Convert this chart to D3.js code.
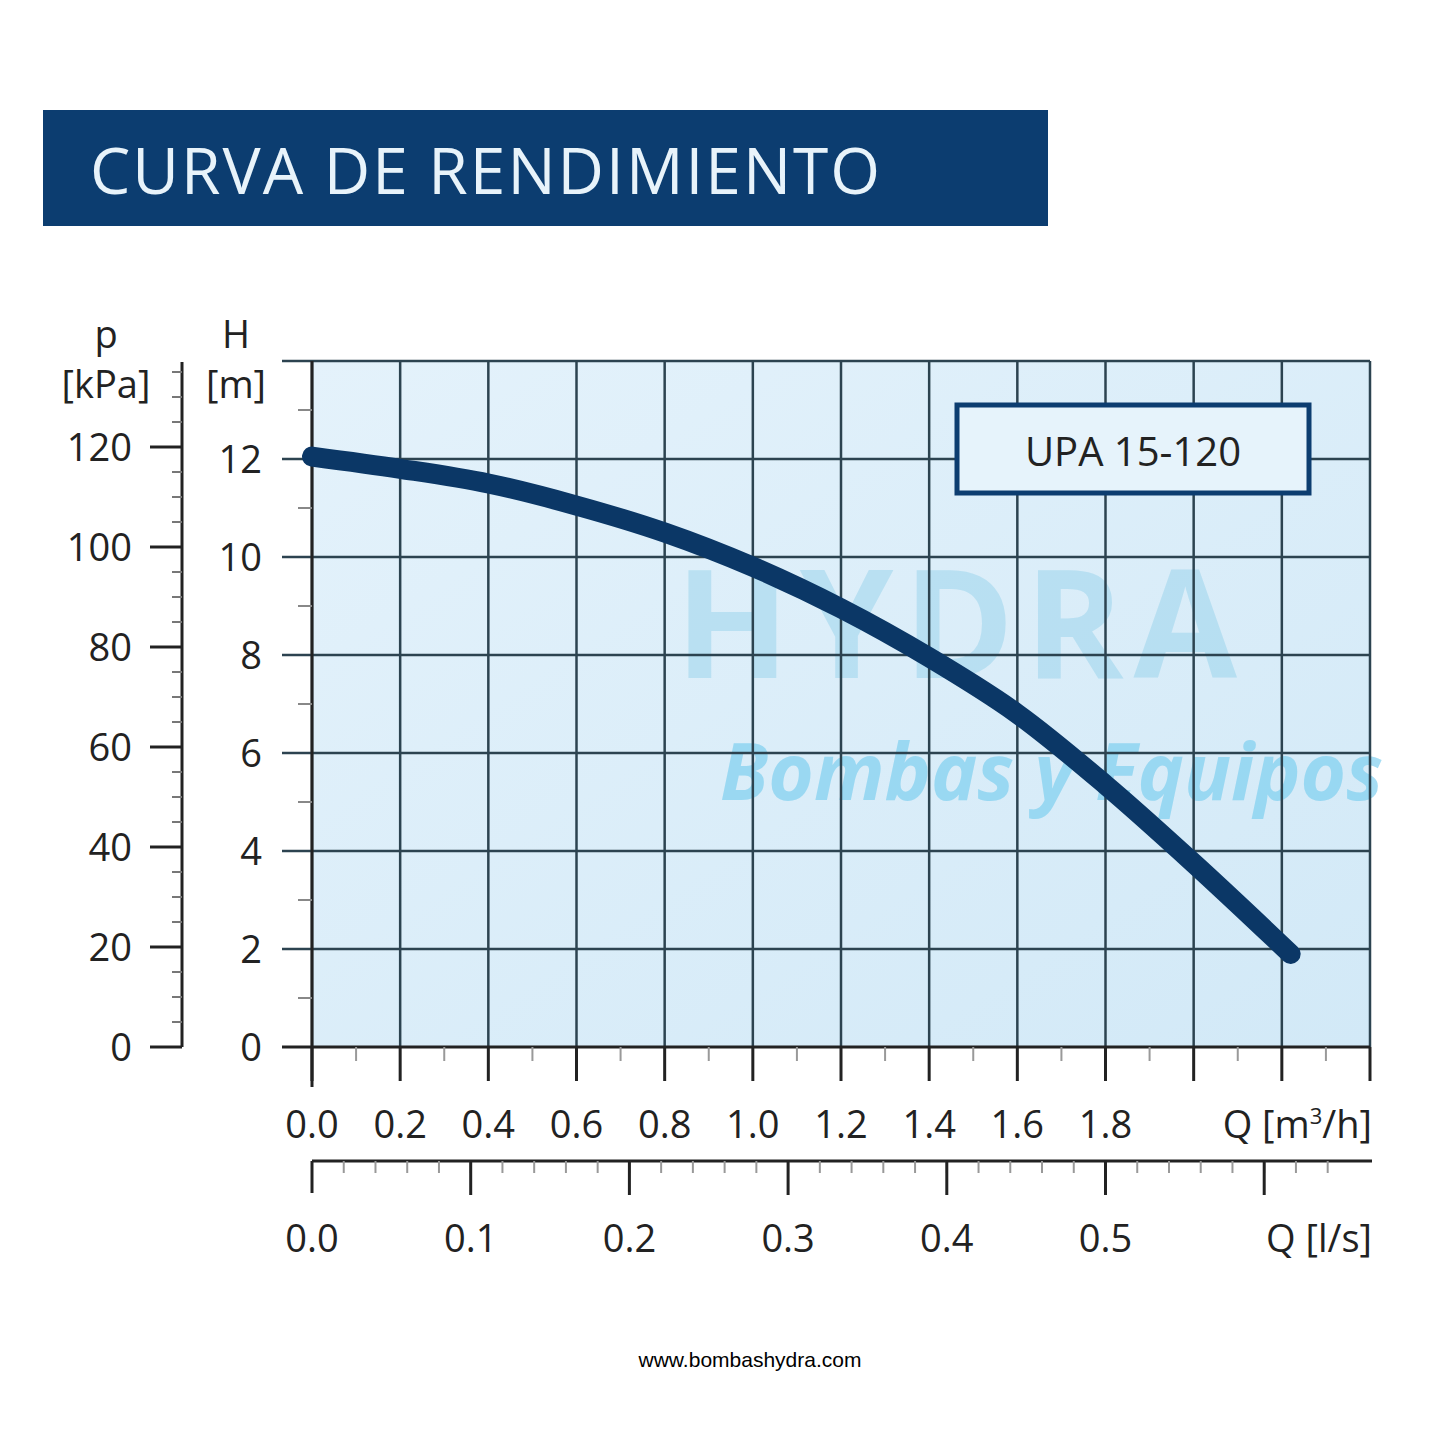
<!DOCTYPE html>
<html>
<head>
<script src="https://cdn.jsdelivr.net/npm/d3@7"></script>
<style>
body { margin:0; background:#fff; }
text { font-family: "Open Sans", "DejaVu Sans", sans-serif; fill:#222; }
</style>
</head>
<body>
<svg id="chart" width="1445" height="1445"></svg>
<script>
// curve of UPA 15-120: Q [m3/h] vs H [m]
var flowQ  = [0.0, 0.2, 0.4, 0.6, 0.8, 1.0, 1.2, 1.4, 1.6, 1.8, 2.0, 2.22];
var headH  = [12.05, 11.8, 11.5, 11.05, 10.5, 9.8, 8.95, 7.95, 6.8, 5.35, 3.75, 1.9];
var qTicks = [0, 0.2, 0.4, 0.6, 0.8, 1.0, 1.2, 1.4, 1.6, 1.8];
var hTicks = [0, 2, 4, 6, 8, 10, 12];
var pTicks = [0, 20, 40, 60, 80, 100, 120];
var lsTicks = [0, 0.1, 0.2, 0.3, 0.4, 0.5];

var svg = d3.select("#chart");
var x = d3.scaleLinear().domain([0, 2.4]).range([312, 1370]);
var y = d3.scaleLinear().domain([0, 14]).range([1047, 361]);
var p = d3.scaleLinear().domain([0, 137]).range([1047, 362]);
var xl = d3.scaleLinear().domain([0, 2.4 / 3.6]).range([312, 1370]);

// title banner
svg.append("rect").attr("x", 43).attr("y", 110).attr("width", 1005).attr("height", 116).attr("fill", "#0c3d70");
svg.append("text").attr("x", 90).attr("y", 194).text("CURVA DE RENDIMIENTO")
   .style("font-size", "64px").style("fill", "#e8f3fa").style("letter-spacing", "2px");

// plot background
var grad = svg.append("defs").append("linearGradient").attr("id", "bg").attr("x1", 0).attr("y1", 0).attr("x2", 1).attr("y2", 1);
grad.append("stop").attr("offset", "0%").attr("stop-color", "#e4f2fb");
grad.append("stop").attr("offset", "100%").attr("stop-color", "#d2e9f7");
svg.append("rect").attr("x", x(0)).attr("y", y(14)).attr("width", x(2.4) - x(0)).attr("height", y(0) - y(14)).attr("fill", "url(#bg)");

// watermark
svg.append("text").attr("x", 675).attr("y", 678).style("font-size", "150px").style("font-weight", "bold")
   .style("fill", "#8fd0ea").style("opacity", 0.45).style("letter-spacing", "10px").text("HYDRA");
svg.append("text").attr("x", 720).attr("y", 800).style("font-size", "78px").style("font-style", "italic").style("font-weight", "bold")
   .style("fill", "#7fd0f0").style("opacity", 0.7).text("Bombas y Equipos");

// grid
var gridColor = "#2c4350";
svg.selectAll(".vg").data(d3.range(0, 2.41, 0.2)).enter().append("line")
   .attr("x1", d => x(d)).attr("x2", d => x(d)).attr("y1", y(14)).attr("y2", y(0))
   .attr("stroke", gridColor).attr("stroke-width", 2.5);
svg.selectAll(".hg").data([2, 4, 6, 8, 10, 12, 14]).enter().append("line")
   .attr("x1", x(0) - 30).attr("x2", x(2.4)).attr("y1", d => y(d)).attr("y2", d => y(d))
   .attr("stroke", gridColor).attr("stroke-width", 2.5);
svg.append("line").attr("x1", x(0) - 30).attr("x2", x(2.4)).attr("y1", y(0)).attr("y2", y(0))
   .attr("stroke", "#222").attr("stroke-width", 3);
svg.append("line").attr("x1", x(0)).attr("x2", x(0)).attr("y1", y(14)).attr("y2", y(0) + 40)
   .attr("stroke", "#222").attr("stroke-width", 3);
// H minor ticks
svg.selectAll(".hm").data([1, 3, 5, 7, 9, 11, 13]).enter().append("line")
   .attr("x1", x(0) - 14).attr("x2", x(0)).attr("y1", d => y(d)).attr("y2", d => y(d))
   .attr("stroke", "#888").attr("stroke-width", 2);
svg.selectAll(".hl").data(hTicks).enter().append("text")
   .attr("x", 262).attr("y", d => y(d) + 14).attr("text-anchor", "end")
   .style("font-size", "38px").text(d => d);
svg.append("text").attr("x", 236).attr("y", 348).attr("text-anchor", "middle").style("font-size", "38px").text("H");
svg.append("text").attr("x", 236).attr("y", 398).attr("text-anchor", "middle").style("font-size", "38px").text("[m]");

// kPa axis
svg.append("line").attr("x1", 182).attr("x2", 182).attr("y1", 362).attr("y2", 1047).attr("stroke", "#222").attr("stroke-width", 3);
svg.selectAll(".pm").data(d3.range(0, 136, 5)).enter().append("line")
   .attr("x1", 172).attr("x2", 182).attr("y1", d => p(d)).attr("y2", d => p(d))
   .attr("stroke", "#777").attr("stroke-width", 2);
svg.selectAll(".pt").data(pTicks).enter().append("line")
   .attr("x1", 150).attr("x2", 182).attr("y1", d => p(d)).attr("y2", d => p(d))
   .attr("stroke", "#222").attr("stroke-width", 3);
svg.selectAll(".pl").data(pTicks).enter().append("text")
   .attr("x", 132).attr("y", d => p(d) + 14).attr("text-anchor", "end")
   .style("font-size", "38px").text(d => d);
svg.append("text").attr("x", 106).attr("y", 348).attr("text-anchor", "middle").style("font-size", "38px").text("p");
svg.append("text").attr("x", 106).attr("y", 398).attr("text-anchor", "middle").style("font-size", "38px").text("[kPa]");

// Q m3/h axis ticks
svg.selectAll(".qt").data(d3.range(0, 2.41, 0.2)).enter().append("line")
   .attr("x1", d => x(d)).attr("x2", d => x(d)).attr("y1", y(0)).attr("y2", y(0) + 34)
   .attr("stroke", "#222").attr("stroke-width", 3);
svg.selectAll(".qm").data(d3.range(0.1, 2.4, 0.2)).enter().append("line")
   .attr("x1", d => x(d)).attr("x2", d => x(d)).attr("y1", y(0)).attr("y2", y(0) + 14)
   .attr("stroke", "#999").attr("stroke-width", 2);
svg.selectAll(".ql").data(qTicks).enter().append("text")
   .attr("x", d => x(d)).attr("y", 1138).attr("text-anchor", "middle")
   .style("font-size", "38px").text(d => d.toFixed(1));
svg.append("text").attr("x", 1372).attr("y", 1138).attr("text-anchor", "end").style("font-size", "38px")
   .html("Q [m<tspan font-size='22px' dy='-14'>3</tspan><tspan dy='14'>/h]</tspan>");

// Q l/s axis
svg.append("line").attr("x1", 312).attr("x2", 1372).attr("y1", 1161).attr("y2", 1161).attr("stroke", "#222").attr("stroke-width", 3);
svg.append("line").attr("x1", 312).attr("x2", 312).attr("y1", 1161).attr("y2", 1193).attr("stroke", "#222").attr("stroke-width", 3);
svg.selectAll(".lm").data(d3.range(0.02, 0.66, 0.02)).enter().append("line")
   .attr("x1", d => xl(d)).attr("x2", d => xl(d)).attr("y1", 1161).attr("y2", 1173)
   .attr("stroke", "#999").attr("stroke-width", 2);
svg.selectAll(".lt").data(lsTicks.slice(1).concat([0.6])).enter().append("line")
   .attr("x1", d => xl(d)).attr("x2", d => xl(d)).attr("y1", 1161).attr("y2", 1195)
   .attr("stroke", "#222").attr("stroke-width", 3);
svg.selectAll(".ll").data(lsTicks).enter().append("text")
   .attr("x", d => xl(d)).attr("y", 1252).attr("text-anchor", "middle")
   .style("font-size", "38px").text(d => d.toFixed(1));
svg.append("text").attr("x", 1372).attr("y", 1252).attr("text-anchor", "end").style("font-size", "38px").text("Q [l/s]");

// curve
var line = d3.line().x((d, i) => x(flowQ[i])).y(d => y(d)).curve(d3.curveCatmullRom.alpha(0.5));
svg.append("path").datum(headH).attr("d", line).attr("fill", "none")
   .attr("stroke", "#0b3766").attr("stroke-width", 20).attr("stroke-linecap", "round");

// legend
svg.append("rect").attr("x", 957).attr("y", 405).attr("width", 352).attr("height", 88)
   .attr("fill", "#e6f3fb").attr("stroke", "#0c3d70").attr("stroke-width", 5);
svg.append("text").attr("x", 1133).attr("y", 466).attr("text-anchor", "middle").style("font-size", "40px").text("UPA 15-120");

// footer
svg.append("text").attr("x", 750).attr("y", 1367).attr("text-anchor", "middle")
   .style("font-family", "Liberation Sans, Arial, sans-serif").style("font-size", "21px").style("fill", "#000")
   .text("www.bombashydra.com");
</script>
</body>
</html>
